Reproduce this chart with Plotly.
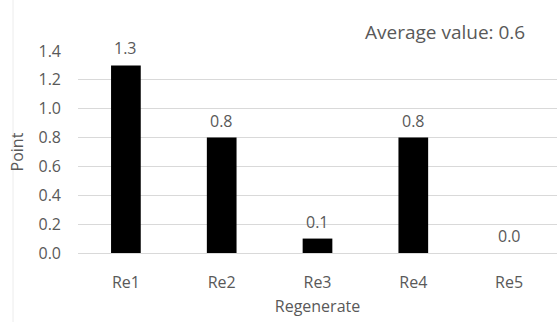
import plotly.graph_objects as go

categories = ["Re1", "Re2", "Re3", "Re4", "Re5"]
points = [1.3, 0.8, 0.1, 0.8, 0.0]
y_ticks = [0.0, 0.2, 0.4, 0.6, 0.8, 1.0, 1.2, 1.4]
average = sum(points) / len(points)

W, H = 557, 322
L, R, T, B = 78, 0, 51, 69
FONT = "Open Sans, Noto Sans, sans-serif"
GREY = "#595959"
SIZE = 16

fig = go.Figure(
    go.Bar(
        x=categories,
        y=points,
        marker=dict(color="#000000", line=dict(width=0)),
        width=0.31,
        hoverinfo="x+y",
    )
)

# value labels above each bar
value_labels = [
    dict(
        x=c,
        y=v,
        xref="x",
        yref="y",
        text=f"{v:.1f}",
        showarrow=False,
        yanchor="middle",
        yshift=17,
        font=dict(family=FONT, size=SIZE, color=GREY),
    )
    for c, v in zip(categories, points)
]

fig.update_layout(
    width=W,
    height=H,
    margin=dict(l=L, r=R, t=T, b=B),
    paper_bgcolor="white",
    plot_bgcolor="white",
    showlegend=False,
    bargap=0.69,
    font=dict(family=FONT, color=GREY, size=SIZE),
    xaxis=dict(
        title=dict(text="Regenerate", font=dict(size=SIZE, color=GREY), standoff=8),
        showline=False,
        showgrid=False,
        ticks="",
        ticklabelstandoff=18,
        tickfont=dict(size=SIZE, color=GREY),
        range=[-0.5, 4.5],
    ),
    yaxis=dict(
        title=dict(text="Point", font=dict(size=SIZE, color=GREY), standoff=10),
        range=[0, 1.4],
        tickvals=y_ticks,
        ticktext=[f"{v:.1f}" for v in y_ticks],
        tickfont=dict(size=SIZE, color=GREY),
        ticklabelstandoff=16,
        showgrid=True,
        gridcolor="#d9d9d9",
        gridwidth=1,
        zeroline=True,
        zerolinecolor="#d9d9d9",
        zerolinewidth=1,
        showline=False,
        ticks="",
    ),
    annotations=value_labels
    + [
        dict(
            text=f"Average value: {average:.1f}",
            xref="paper",
            yref="paper",
            x=(445 - L) / (W - L - R),
            y=(H - B - 32) / (H - T - B),
            xanchor="center",
            yanchor="middle",
            showarrow=False,
            font=dict(family=FONT, size=19, color=GREY),
        )
    ],
    shapes=[
        dict(
            type="line",
            xref="paper",
            yref="paper",
            x0=(13 - L) / (W - L - R),
            x1=(13 - L) / (W - L - R),
            y0=-B / (H - T - B),
            y1=(H - B) / (H - T - B),
            line=dict(color="#ececec", width=1),
        )
    ],
)

fig.write_html("out.html")
